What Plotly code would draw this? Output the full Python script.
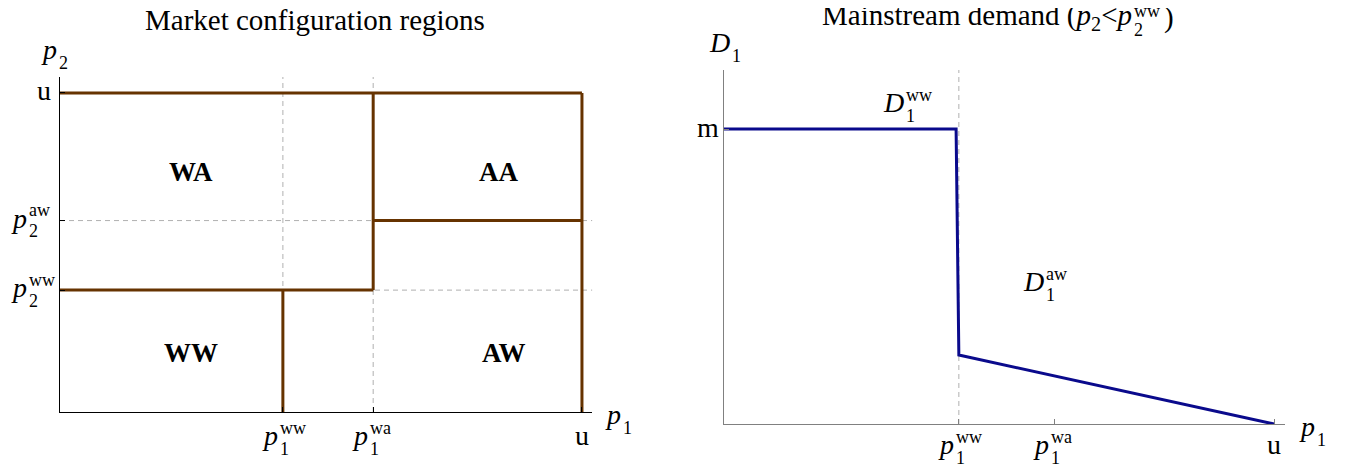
import plotly.graph_objects as go

# the page body keeps its 8px margin, so the figure is 8px smaller and every
# reference pixel position is measured from (8, 8)
OFF = 8
W, H = 1346 - OFF, 468 - OFF
SERIF = "Liberation Serif"
BROWN = "#663300"
NAVY = "#0a0a8c"
DASH_GREY = "#b0b0b0"

# price thresholds (u = 1) and demand level (m = 1)
p1_ww = 0.427
p1_wa = 0.60
p2_ww = 0.382
p2_aw = 0.60
u = 1.0

# tick positions and their labels as (base, sub, sup)
left_x_ticks = [p1_ww, p1_wa, u]
left_x_labels = [("p", "1", "ww"), ("p", "1", "wa"), ("u", None, None)]
left_y_ticks = [p2_ww, p2_aw, u]
left_y_labels = [("p", "2", "ww"), ("p", "2", "aw"), ("u", None, None)]
right_x_ticks = [p1_ww, p1_wa, u]
right_x_labels = [("p", "1", "ww"), ("p", "1", "wa"), ("u", None, None)]
right_y_ticks = [1.0]
right_y_labels = [("m", None, None)]

# boundaries of the configuration regions (segments separated by None)
border_x = [0, u, None, u, u, None, p1_wa, p1_wa, None, p1_wa, u, None, 0, p1_wa, None, p1_ww, p1_ww]
border_y = [u, u, None, 0, u, None, p2_ww, u, None, p2_aw, p2_aw, None, p2_ww, p2_ww, None, 0, p2_ww]

region_names = ["WA", "AA", "WW", "AW"]
region_x = [0.251, 0.841, 0.251, 0.851]
region_y = [0.755, 0.755, 0.188, 0.188]

# mainstream demand D1(p1)
demand_p1 = [0.0, 0.422, 0.427, 1.0]
demand_d1 = [1.0, 1.0, 0.234, 0.0]


def fx(px):
    return (px - OFF) / W


def fy(py):
    return 1 - (py - OFF) / H


fig = go.Figure()

# guide lines
fig.add_trace(go.Scatter(
    x=[p1_ww, p1_ww, None, p1_wa, p1_wa, None, 0, 1.02, None, 0, 1.02],
    y=[0, 1.05, None, 0, 1.05, None, p2_aw, p2_aw, None, p2_ww, p2_ww],
    mode="lines", line=dict(color=DASH_GREY, width=1, dash="5px,4px"),
    xaxis="x", yaxis="y", hoverinfo="skip"))
fig.add_trace(go.Scatter(
    x=border_x, y=border_y, mode="lines",
    line=dict(color=BROWN, width=3), xaxis="x", yaxis="y"))

fig.add_trace(go.Scatter(
    x=[p1_ww, p1_ww], y=[0, 1.2], mode="lines",
    line=dict(color=DASH_GREY, width=1, dash="5px,4px"),
    xaxis="x2", yaxis="y2", hoverinfo="skip"))
fig.add_trace(go.Scatter(
    x=demand_p1, y=demand_d1, mode="lines",
    line=dict(color=NAVY, width=3), xaxis="x2", yaxis="y2"))


def txt(text, x, y, xref, yref, dx, base_dy, size, anchor="left", bold=False):
    # dx / base_dy: pixel offset of the text baseline from the anchor (down is +)
    if bold:
        text = "<b>" + text + "</b>"
    fig.add_annotation(
        text=text, x=x, y=y, xref=xref, yref=yref, showarrow=False,
        xanchor=anchor, yanchor="middle", xshift=dx,
        yshift=-(base_dy - 0.34 * size),
        font=dict(family=SERIF, size=size, color="black"))


def math_label(part, x, y, xref, yref, dx, dy, size=28, small=18,
               anchor="right", plain_dx=None, sup_up=11):
    base, sub, sup = part
    if sub is None and sup is None:
        txt(base, x, y, xref, yref, dx if plain_dx is None else plain_dx, dy, size, anchor)
        return
    txt("<i>" + base + "</i>", x, y, xref, yref, dx + 1, dy, size, "right")
    if sub:
        txt(sub, x, y, xref, yref, dx - 1, dy + 10, small, "left")
    if sup:
        txt(sup, x, y, xref, yref, dx - 1, dy - sup_up, small, "left")


for t, lab in zip(left_x_ticks, left_x_labels):
    math_label(lab, t, 0, "x", "y", -4, 33, anchor="center", plain_dx=0)
for t, lab in zip(left_y_ticks, left_y_labels):
    math_label(lab, 0, t, "x", "y", -32, 7, anchor="right", plain_dx=-7)
for t, lab in zip(right_x_ticks, right_x_labels):
    math_label(lab, t, 0, "x2", "y2", -4, 30, anchor="center", plain_dx=0)
for t, lab in zip(right_y_ticks, right_y_labels):
    math_label(lab, 0, t, "x2", "y2", -3, 8, anchor="right")

# axis names
math_label(("p", "1", None), 1.02, 0, "x", "y", 30, 12)
math_label(("p", "2", None), 0, 1.05, "x", "y", -2, -18)
math_label(("p", "1", None), 1.02, 0, "x2", "y2", 31, 12)
math_label(("D", "1", None), 0, 1.2, "x2", "y2", 7, -18)

# curve labels
math_label(("D", "1", "ww"), 0.329, 1.0, "x2", "y2", 0, -17)
math_label(("D", "1", "aw"), 0.584, 0.234, "x2", "y2", 0, -64)

for name, rx, ry in zip(region_names, region_x, region_y):
    txt(name, rx, ry, "x", "y", 0, 10, 27, "center", bold=True)

# titles
txt("Market configuration regions", fx(315), 1, "paper", "paper", 0, 22, 29, "center")
txt("Mainstream demand (<i>p</i><sub>2</sub>&lt;<i>p</i>", fx(1133), 1, "paper", "paper", 1, 19, 29, "right")
txt("2", fx(1133), 1, "paper", "paper", -1, 28, 18, "left")
txt("ww", fx(1133), 1, "paper", "paper", -1, 9, 18, "left")
txt(")", fx(1162), 1, "paper", "paper", 0, 19, 29, "left")

axis_common = dict(showgrid=False, zeroline=False, showline=True, linewidth=1,
                   ticks="inside", ticklen=5, tickwidth=1, showticklabels=False,
                   fixedrange=True)

fig.update_layout(
    width=W, height=H,
    margin=dict(l=0, r=0, t=0, b=0),
    paper_bgcolor="white", plot_bgcolor="white",
    showlegend=False,
    xaxis=dict(domain=[fx(60), fx(592.4)], range=[0, 1.02], anchor="y",
               tickvals=left_x_ticks, linecolor="black", tickcolor="black", **axis_common),
    yaxis=dict(domain=[fy(412), fy(77)], range=[0, 1.05], anchor="x",
               tickvals=left_y_ticks, linecolor="black", tickcolor="black", **axis_common),
    xaxis2=dict(domain=[fx(724), fx(1285)], range=[0, 1.02], anchor="y2",
                tickvals=right_x_ticks, linecolor="#808080", tickcolor="#808080", **axis_common),
    yaxis2=dict(domain=[fy(424), fy(70)], range=[0, 1.2], anchor="x2",
                tickvals=right_y_ticks, linecolor="#808080", tickcolor="#808080", **axis_common),
)

fig.write_html("out.html")
